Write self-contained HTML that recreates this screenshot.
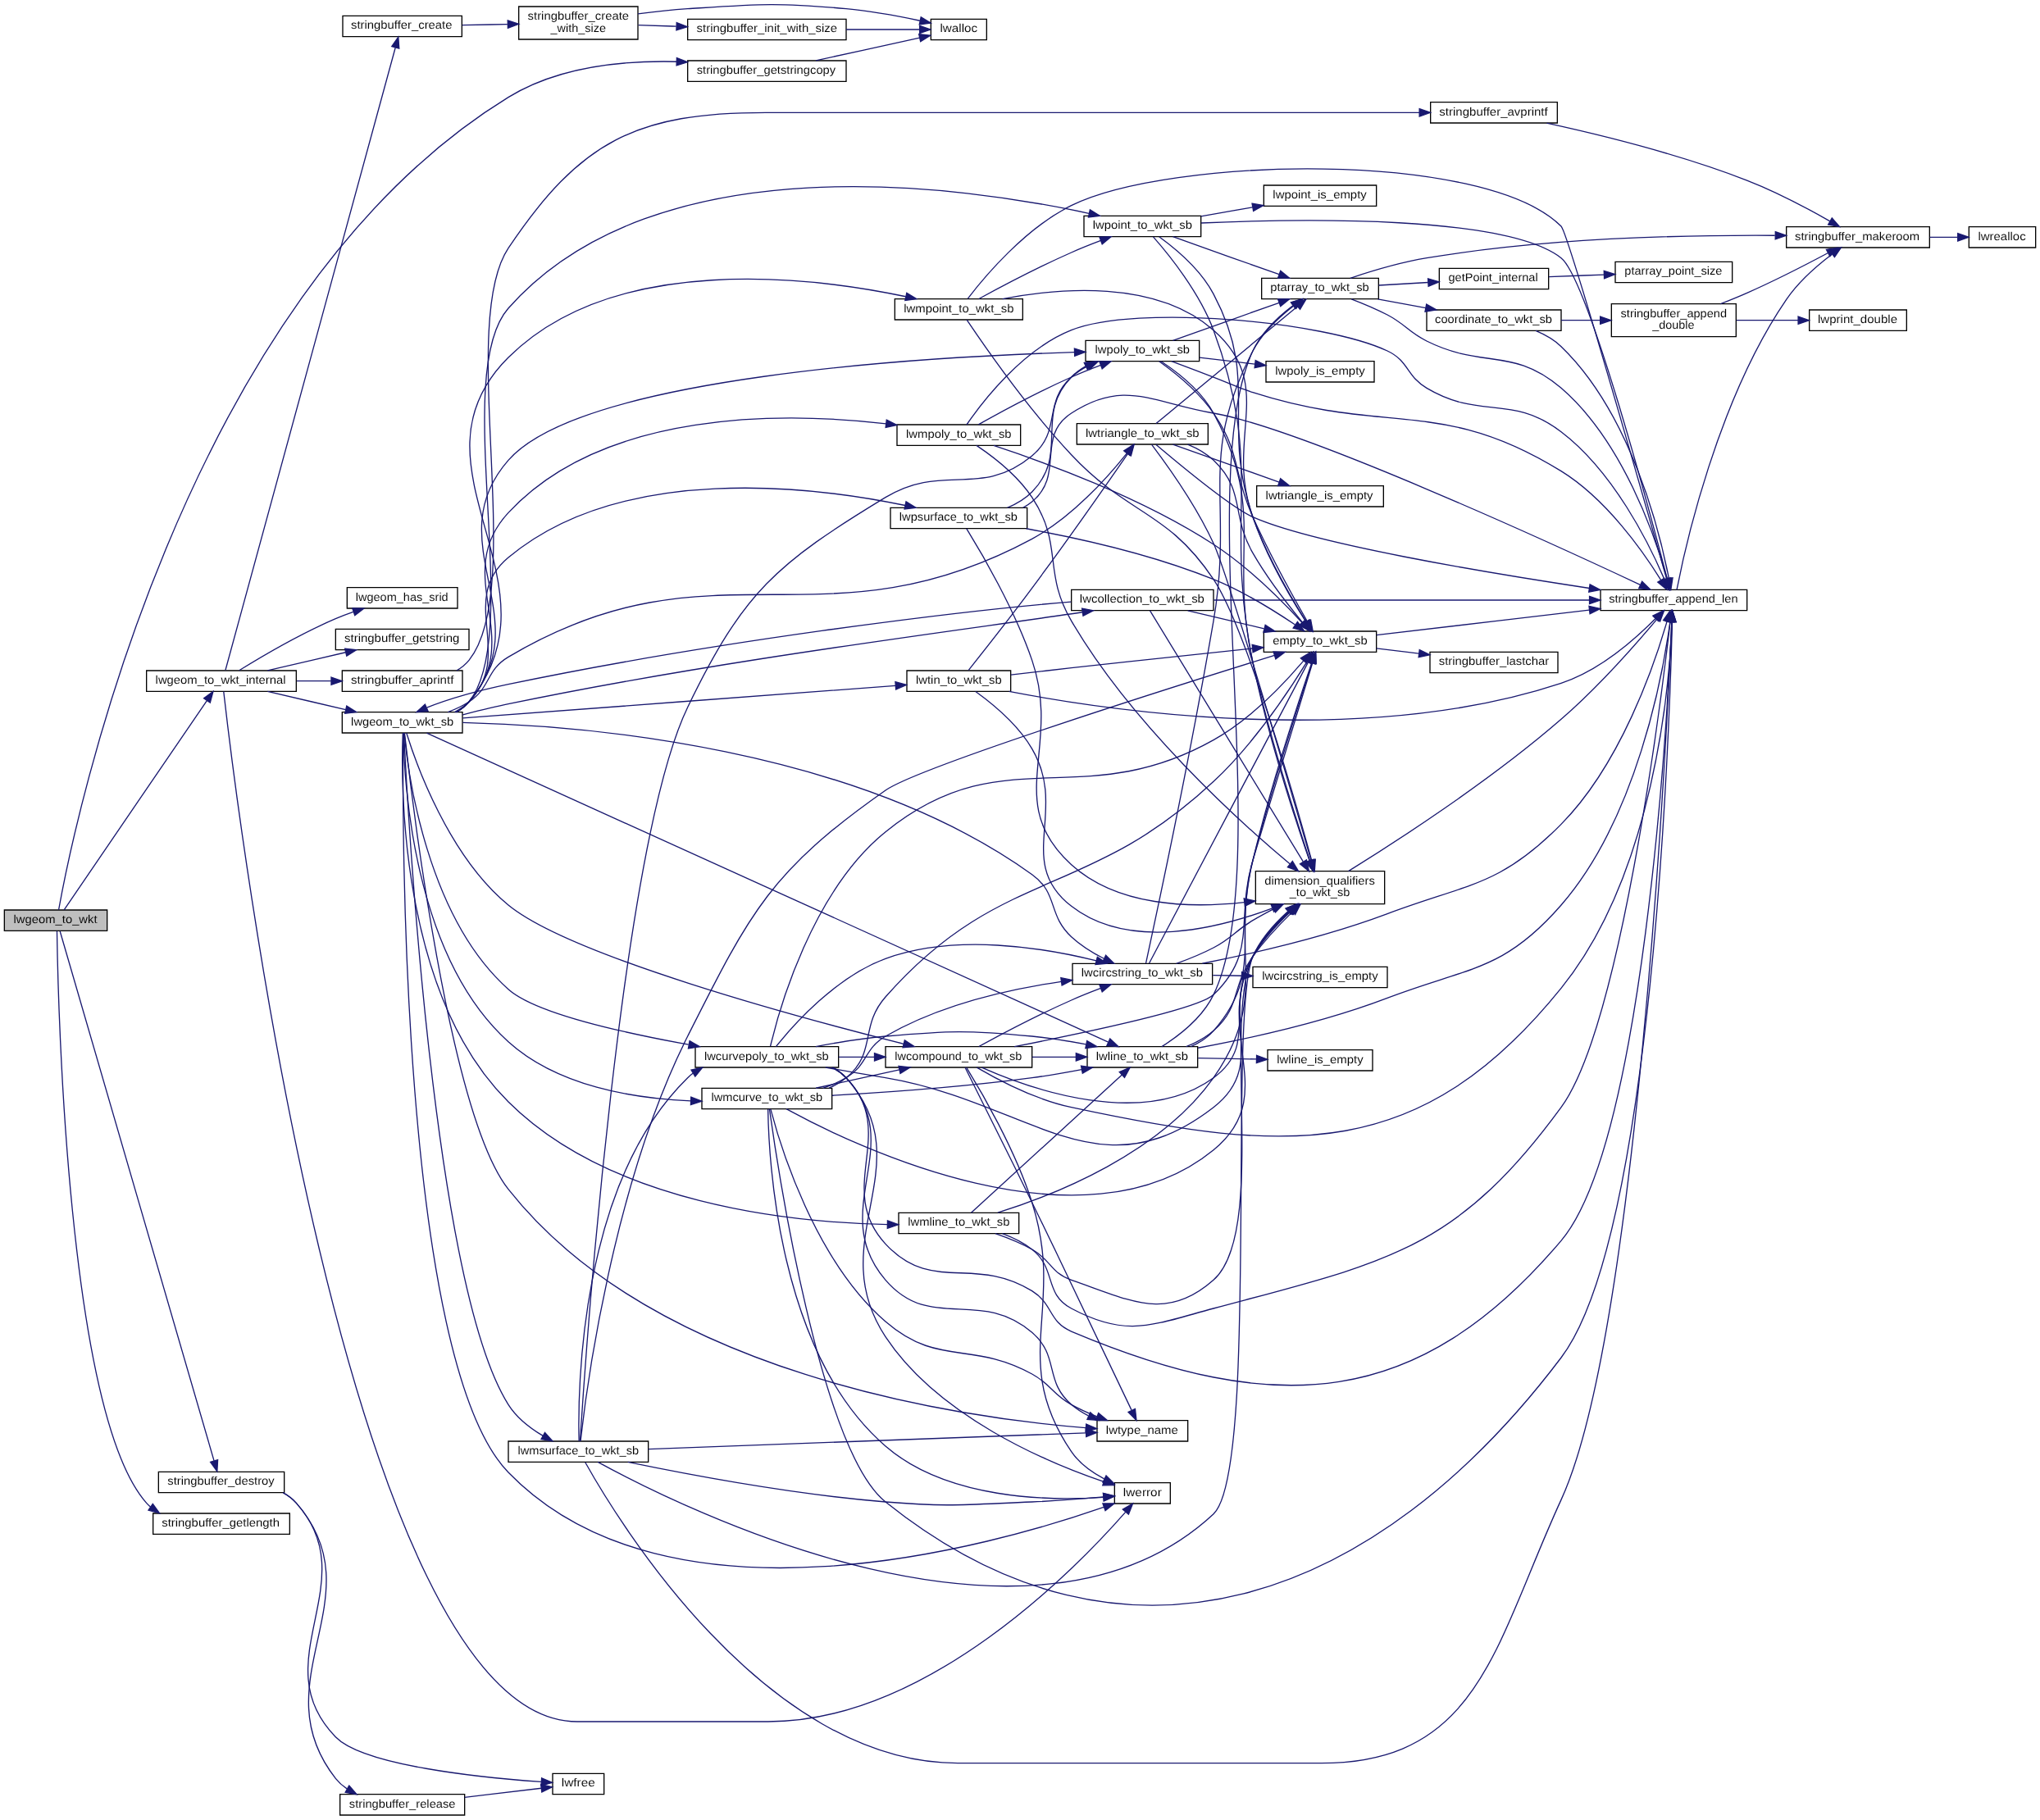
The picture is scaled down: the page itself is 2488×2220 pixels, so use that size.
<!DOCTYPE html>
<html><head><meta charset="utf-8"><title>lwgeom_to_wkt</title>
<style>
html,body{margin:0;padding:0;background:#fff}
svg{display:block}
text{font-family:"Liberation Sans",sans-serif;font-size:10.5px;text-anchor:middle;fill:#000}
svg{will-change:transform}
text{text-rendering:geometricPrecision;stroke:#fff;stroke-width:0.045px;paint-order:fill stroke}
.r{stroke:#bfbfbf}
</style></head><body>
<svg width="2488" height="2220" viewBox="0 0 1866 1665">
<g id="graph0" class="graph" transform="scale(1 1) rotate(0) translate(4 1661.01)">
<polygon fill="white" stroke="none" points="-4,4 -4,-1661.01 1862,-1661.01 1862,4 -4,4"/>
<g>
<polygon fill="#bfbfbf" stroke="black" points="0,-809.5 0,-828.5 94,-828.5 94,-809.5 0,-809.5"/>
<text class="r" x="46.66" y="-816.50" textLength="76.57" lengthAdjust="spacingAndGlyphs">lwgeom_to_wkt</text>
</g>
<g>
<polygon fill="white" stroke="black" points="130,-1028.5 130,-1047.5 267,-1047.5 267,-1028.5 130,-1028.5"/>
<text x="197.82" y="-1035.50" textLength="119.26" lengthAdjust="spacingAndGlyphs">lwgeom_to_wkt_internal</text>
</g>
<g>
<path fill="none" stroke="midnightblue" d="M54.62,-828.69C77.72,-862.54 155.06,-975.83 185.27,-1020.08"/>
<polygon fill="midnightblue" stroke="midnightblue" points="182.43,-1022.13 190.96,-1028.42 188.21,-1018.19 182.43,-1022.13"/>
</g>
<g>
<polygon fill="white" stroke="black" points="141,-295.5 141,-314.5 256,-314.5 256,-295.5 141,-295.5"/>
<text x="198.16" y="-302.50" textLength="97.73" lengthAdjust="spacingAndGlyphs">stringbuffer_destroy</text>
</g>
<g>
<path fill="none" stroke="midnightblue" d="M50.85,-809.19C68.87,-747.23 166.96,-410 191.79,-324.64"/>
<polygon fill="midnightblue" stroke="midnightblue" points="195.18,-325.49 194.62,-314.91 188.46,-323.54 195.18,-325.49"/>
</g>
<g>
<polygon fill="white" stroke="black" points="136,-257.5 136,-276.5 261,-276.5 261,-257.5 136,-257.5"/>
<text x="197.82" y="-264.50" textLength="107.79" lengthAdjust="spacingAndGlyphs">stringbuffer_getlength</text>
</g>
<g>
<path fill="none" stroke="midnightblue" d="M48.11,-809.27C49.05,-743.81 57.55,-367.85 130,-286 131.16,-284.68 132.41,-283.46 133.73,-282.31"/>
<polygon fill="midnightblue" stroke="midnightblue" points="135.73,-285.18 141.96,-276.61 131.75,-279.43 135.73,-285.18"/>
</g>
<g>
<polygon fill="white" stroke="black" points="625,-1586.5 625,-1605.5 770,-1605.5 770,-1586.5 625,-1586.5"/>
<text x="696.83" y="-1593.50" textLength="127.15" lengthAdjust="spacingAndGlyphs">stringbuffer_getstringcopy</text>
</g>
<g>
<path fill="none" stroke="midnightblue" d="M49.68,-828.7C63.15,-903.3 161.12,-1387.91 461,-1572 506.61,-1600 566.77,-1605.72 614.86,-1604.59"/>
<polygon fill="midnightblue" stroke="midnightblue" points="615.06,-1608.08 624.93,-1604.25 614.82,-1601.09 615.06,-1608.08"/>
</g>
<g>
<polygon fill="white" stroke="black" points="1015.5,-285.5 1015.5,-304.5 1066.5,-304.5 1066.5,-285.5 1015.5,-285.5"/>
<text x="1041.00" y="-292.50" textLength="35.17" lengthAdjust="spacingAndGlyphs">lwerror</text>
</g>
<g>
<path fill="none" stroke="midnightblue" d="M200.58,-1028.27C211.97,-927.96 313.81,-86 524,-86 524,-86 524,-86 698.5,-86 845.03,-86 981.8,-227.72 1025.53,-277.76"/>
<polygon fill="midnightblue" stroke="midnightblue" points="1022.99,-280.18 1032.17,-285.48 1028.3,-275.61 1022.99,-280.18"/>
</g>
<g>
<polygon fill="white" stroke="black" points="313.5,-1104.5 313.5,-1123.5 414.5,-1123.5 414.5,-1104.5 313.5,-1104.5"/>
<text x="363.66" y="-1111.50" textLength="84.76" lengthAdjust="spacingAndGlyphs">lwgeom_has_srid</text>
</g>
<g>
<path fill="none" stroke="midnightblue" d="M214.8,-1047.68C234.58,-1059.9 270.38,-1081.02 303,-1095 308.15,-1097.21 313.64,-1099.29 319.13,-1101.21"/>
<polygon fill="midnightblue" stroke="midnightblue" points="318.34,-1104.64 328.94,-1104.49 320.56,-1098 318.34,-1104.64"/>
</g>
<g>
<polygon fill="white" stroke="black" points="309,-990.5 309,-1009.5 419,-1009.5 419,-990.5 309,-990.5"/>
<text x="364.00" y="-997.50" textLength="93.80" lengthAdjust="spacingAndGlyphs">lwgeom_to_wkt_sb</text>
</g>
<g>
<path fill="none" stroke="midnightblue" d="M240.76,-1028.41C262.43,-1023.37 289.18,-1017.16 312.13,-1011.82"/>
<polygon fill="midnightblue" stroke="midnightblue" points="313.09,-1015.19 322.04,-1009.52 311.51,-1008.37 313.09,-1015.19"/>
</g>
<g>
<polygon fill="white" stroke="black" points="309,-1028.5 309,-1047.5 419,-1047.5 419,-1028.5 309,-1028.5"/>
<text x="364.00" y="-1035.50" textLength="93.99" lengthAdjust="spacingAndGlyphs">stringbuffer_aprintf</text>
</g>
<g>
<path fill="none" stroke="midnightblue" d="M267.42,-1038C277.82,-1038 288.52,-1038 298.83,-1038"/>
<polygon fill="midnightblue" stroke="midnightblue" points="298.99,-1041.5 308.99,-1038 298.99,-1034.5 298.99,-1041.5"/>
</g>
<g>
<polygon fill="white" stroke="black" points="309.5,-1627.5 309.5,-1646.5 418.5,-1646.5 418.5,-1627.5 309.5,-1627.5"/>
<text x="363.32" y="-1634.50" textLength="92.59" lengthAdjust="spacingAndGlyphs">stringbuffer_create</text>
</g>
<g>
<path fill="none" stroke="midnightblue" d="M202.2,-1047.9C220.97,-1116.67 331.97,-1523.31 357.68,-1617.52"/>
<polygon fill="midnightblue" stroke="midnightblue" points="354.32,-1618.48 360.33,-1627.2 361.07,-1616.63 354.32,-1618.48"/>
</g>
<g>
<polygon fill="white" stroke="black" points="303,-1066.5 303,-1085.5 425,-1085.5 425,-1066.5 303,-1066.5"/>
<text x="363.66" y="-1073.50" textLength="105.30" lengthAdjust="spacingAndGlyphs">stringbuffer_getstring</text>
</g>
<g>
<path fill="none" stroke="midnightblue" d="M240.76,-1047.59C262.43,-1052.63 289.18,-1058.84 312.13,-1064.18"/>
<polygon fill="midnightblue" stroke="midnightblue" points="311.51,-1067.63 322.04,-1066.48 313.09,-1060.81 311.51,-1067.63"/>
</g>
<g>
<path fill="none" stroke="midnightblue" d="M364.86,-990.44C363.98,-915.02 361.97,-416.05 461,-314 608.45,-162.05 904.94,-247.16 1005.63,-282.2"/>
<polygon fill="midnightblue" stroke="midnightblue" points="1004.7,-285.58 1015.3,-285.62 1007.04,-278.98 1004.7,-285.58"/>
</g>
<g>
<polygon fill="white" stroke="black" points="977,-760.5 977,-779.5 1105,-779.5 1105,-760.5 977,-760.5"/>
<text x="1040.66" y="-767.50" textLength="111.14" lengthAdjust="spacingAndGlyphs">lwcircstring_to_wkt_sb</text>
</g>
<g>
<path fill="none" stroke="midnightblue" d="M419.25,-999.98C528.19,-997.34 777.07,-977.89 940,-861 964.35,-843.53 954.03,-824.38 976,-804 984.62,-796.01 995.46,-789.32 1005.77,-784.05"/>
<polygon fill="midnightblue" stroke="midnightblue" points="1007.5,-787.1 1015,-779.61 1004.47,-780.79 1007.5,-787.1"/>
</g>
<g>
<polygon fill="white" stroke="black" points="976,-1102.5 976,-1121.5 1106,-1121.5 1106,-1102.5 976,-1102.5"/>
<text x="1040.66" y="-1109.50" textLength="114.10" lengthAdjust="spacingAndGlyphs">lwcollection_to_wkt_sb</text>
</g>
<g>
<path fill="none" stroke="midnightblue" d="M419.06,-1007.11C432.67,-1010.49 447.31,-1014.14 461,-1017 652.38,-1056.99 883.13,-1085.44 985.97,-1100.94"/>
<polygon fill="midnightblue" stroke="midnightblue" points="985.7,-1104.43 996.11,-1102.49 986.75,-1097.52 985.7,-1104.43"/>
</g>
<g>
<polygon fill="white" stroke="black" points="806,-684.5 806,-703.5 940,-703.5 940,-684.5 806,-684.5"/>
<text x="872.66" y="-691.50" textLength="116.27" lengthAdjust="spacingAndGlyphs">lwcompound_to_wkt_sb</text>
</g>
<g>
<path fill="none" stroke="midnightblue" d="M367.8,-990.49C376.61,-962.19 406.47,-877.79 461,-833 517.71,-786.42 726.2,-730.22 822.56,-706.03"/>
<polygon fill="midnightblue" stroke="midnightblue" points="823.51,-709.4 832.36,-703.58 821.81,-702.61 823.51,-709.4"/>
</g>
<g>
<polygon fill="white" stroke="black" points="990.5,-684.5 990.5,-703.5 1091.5,-703.5 1091.5,-684.5 990.5,-684.5"/>
<text x="1040.66" y="-691.50" textLength="84.16" lengthAdjust="spacingAndGlyphs">lwline_to_wkt_sb</text>
</g>
<g>
<path fill="none" stroke="midnightblue" d="M386.32,-990.34C484.63,-945.77 894.4,-760 1009.7,-707.74"/>
<polygon fill="midnightblue" stroke="midnightblue" points="1011.35,-710.83 1019.01,-703.51 1008.46,-704.46 1011.35,-710.83"/>
</g>
<g>
<polygon fill="white" stroke="black" points="999.5,-342.5 999.5,-361.5 1082.5,-361.5 1082.5,-342.5 999.5,-342.5"/>
<text x="1040.66" y="-349.50" textLength="65.98" lengthAdjust="spacingAndGlyphs">lwtype_name</text>
</g>
<g>
<path fill="none" stroke="midnightblue" d="M366.05,-990.18C372.36,-932.86 406.74,-641.74 461,-573 594.66,-403.68 874.09,-364.02 988.99,-354.78"/>
<polygon fill="midnightblue" stroke="midnightblue" points="989.55,-358.25 999.26,-354 989.02,-351.27 989.55,-358.25"/>
</g>
<g>
<polygon fill="white" stroke="black" points="632,-684.5 632,-703.5 763,-703.5 763,-684.5 632,-684.5"/>
<text x="697.16" y="-691.50" textLength="113.95" lengthAdjust="spacingAndGlyphs">lwcurvepoly_to_wkt_sb</text>
</g>
<g>
<path fill="none" stroke="midnightblue" d="M365.77,-990.33C369.21,-953.71 386.49,-822.24 461,-756 485.34,-734.36 565.7,-716.31 625.82,-705.37"/>
<polygon fill="midnightblue" stroke="midnightblue" points="626.81,-708.74 636.04,-703.54 625.58,-701.85 626.81,-708.74"/>
</g>
<g>
<polygon fill="white" stroke="black" points="638,-646.5 638,-665.5 757,-665.5 757,-646.5 638,-646.5"/>
<text x="697.50" y="-653.50" textLength="101.85" lengthAdjust="spacingAndGlyphs">lwmcurve_to_wkt_sb</text>
</g>
<g>
<path fill="none" stroke="midnightblue" d="M364.98,-990.4C365.43,-949.42 372.94,-787.64 461,-708 506.13,-667.19 575.9,-655.95 627.8,-653.87"/>
<polygon fill="midnightblue" stroke="midnightblue" points="628.04,-657.36 637.93,-653.57 627.83,-650.37 628.04,-657.36"/>
</g>
<g>
<polygon fill="white" stroke="black" points="818,-532.5 818,-551.5 928,-551.5 928,-532.5 818,-532.5"/>
<text x="873.00" y="-539.50" textLength="93.23" lengthAdjust="spacingAndGlyphs">lwmline_to_wkt_sb</text>
</g>
<g>
<path fill="none" stroke="midnightblue" d="M364.49,-990.33C362.68,-945.06 361.25,-752.14 461,-653 554.64,-559.94 717.69,-542.7 807.71,-540.79"/>
<polygon fill="midnightblue" stroke="midnightblue" points="807.84,-544.28 817.78,-540.63 807.73,-537.28 807.84,-544.28"/>
</g>
<g>
<polygon fill="white" stroke="black" points="814.5,-1368.5 814.5,-1387.5 931.5,-1387.5 931.5,-1368.5 814.5,-1368.5"/>
<text x="873.00" y="-1375.50" textLength="100.69" lengthAdjust="spacingAndGlyphs">lwmpoint_to_wkt_sb</text>
</g>
<g>
<path fill="none" stroke="midnightblue" d="M413.43,-1009.55C417.82,-1012.02 421.8,-1015.12 425,-1019 514.58,-1127.77 361.01,-1234.72 461,-1334 558.14,-1430.44 738.7,-1407.59 824.44,-1389.68"/>
<polygon fill="midnightblue" stroke="midnightblue" points="825.37,-1393.06 834.41,-1387.53 823.9,-1386.22 825.37,-1393.06"/>
</g>
<g>
<polygon fill="white" stroke="black" points="987.5,-1444.5 987.5,-1463.5 1094.5,-1463.5 1094.5,-1444.5 987.5,-1444.5"/>
<text x="1041.00" y="-1451.50" textLength="90.95" lengthAdjust="spacingAndGlyphs">lwpoint_to_wkt_sb</text>
</g>
<g>
<path fill="none" stroke="midnightblue" d="M413.49,-1009.5C417.87,-1011.98 421.83,-1015.1 425,-1019 475.67,-1081.42 407.73,-1318.78 461,-1379 596.79,-1532.49 879.26,-1490.31 992.01,-1465.8"/>
<polygon fill="midnightblue" stroke="midnightblue" points="993.06,-1469.15 1002.06,-1463.56 991.54,-1462.32 993.06,-1469.15"/>
</g>
<g>
<polygon fill="white" stroke="black" points="816.5,-1253.5 816.5,-1272.5 929.5,-1272.5 929.5,-1253.5 816.5,-1253.5"/>
<text x="873.00" y="-1260.50" textLength="96.35" lengthAdjust="spacingAndGlyphs">lwmpoly_to_wkt_sb</text>
</g>
<g>
<path fill="none" stroke="midnightblue" d="M412.5,-1009.54C417.18,-1012.01 421.48,-1015.11 425,-1019 477.64,-1077.28 407.56,-1134.45 461,-1192 549.1,-1286.87 714.62,-1283.85 806.45,-1273.41"/>
<polygon fill="midnightblue" stroke="midnightblue" points="806.94,-1276.87 816.45,-1272.21 806.11,-1269.92 806.94,-1276.87"/>
</g>
<g>
<polygon fill="white" stroke="black" points="989,-1330.5 989,-1349.5 1093,-1349.5 1093,-1330.5 989,-1330.5"/>
<text x="1041.00" y="-1337.50" textLength="86.61" lengthAdjust="spacingAndGlyphs">lwpoly_to_wkt_sb</text>
</g>
<g>
<path fill="none" stroke="midnightblue" d="M412.96,-1009.55C417.49,-1012.02 421.64,-1015.11 425,-1019 490.08,-1094.29 395.31,-1165.25 461,-1240 528.35,-1316.64 843.98,-1334.57 978.75,-1338.74"/>
<polygon fill="midnightblue" stroke="midnightblue" points="978.81,-1342.24 988.91,-1339.04 979.01,-1335.25 978.81,-1342.24"/>
</g>
<g>
<polygon fill="white" stroke="black" points="461,-323.5 461,-342.5 589,-342.5 589,-323.5 461,-323.5"/>
<text x="525.00" y="-330.50" textLength="110.79" lengthAdjust="spacingAndGlyphs">lwmsurface_to_wkt_sb</text>
</g>
<g>
<path fill="none" stroke="midnightblue" d="M365.45,-990.29C368.84,-919.7 392.34,-484.96 461,-376 468.59,-363.95 480.93,-354.43 492.68,-347.45"/>
<polygon fill="midnightblue" stroke="midnightblue" points="494.4,-350.5 501.47,-342.6 491.02,-344.37 494.4,-350.5"/>
</g>
<g>
<polygon fill="white" stroke="black" points="810.5,-1177.5 810.5,-1196.5 935.5,-1196.5 935.5,-1177.5 810.5,-1177.5"/>
<text x="872.66" y="-1184.50" textLength="108.07" lengthAdjust="spacingAndGlyphs">lwpsurface_to_wkt_sb</text>
</g>
<g>
<path fill="none" stroke="midnightblue" d="M411.97,-1009.6C416.8,-1012.06 421.29,-1015.14 425,-1019 467.12,-1062.86 414.33,-1112.01 461,-1151 565.06,-1237.93 739.96,-1215.98 824.04,-1198.64"/>
<polygon fill="midnightblue" stroke="midnightblue" points="824.77,-1202.07 833.83,-1196.56 823.32,-1195.22 824.77,-1202.07"/>
</g>
<g>
<polygon fill="white" stroke="black" points="825.5,-1028.5 825.5,-1047.5 920.5,-1047.5 920.5,-1028.5 825.5,-1028.5"/>
<text x="873.00" y="-1035.50" textLength="78.48" lengthAdjust="spacingAndGlyphs">lwtin_to_wkt_sb</text>
</g>
<g>
<path fill="none" stroke="midnightblue" d="M419.26,-1004.07C515.85,-1011.31 716.7,-1026.36 815.13,-1033.74"/>
<polygon fill="midnightblue" stroke="midnightblue" points="814.96,-1037.23 825.19,-1034.49 815.48,-1030.25 814.96,-1037.23"/>
</g>
<g>
<polygon fill="white" stroke="black" points="981,-1254.5 981,-1273.5 1101,-1273.5 1101,-1254.5 981,-1254.5"/>
<text x="1041.00" y="-1261.50" textLength="104.00" lengthAdjust="spacingAndGlyphs">lwtriangle_to_wkt_sb</text>
</g>
<g>
<path fill="none" stroke="midnightblue" d="M405.74,-1009.58C412.47,-1012.08 419.14,-1015.18 425,-1019 445.3,-1032.26 440.15,-1047.62 461,-1060 648.63,-1171.45 747.79,-1064.64 940,-1168 976.51,-1187.63 1009.17,-1224.31 1026.62,-1246.21"/>
<polygon fill="midnightblue" stroke="midnightblue" points="1024.04,-1248.59 1032.94,-1254.33 1029.56,-1244.29 1024.04,-1248.59"/>
</g>
<g>
<polygon fill="white" stroke="black" points="1144.5,-834 1144.5,-864 1262.5,-864 1262.5,-834 1144.5,-834"/>
<text x="1203.16" y="-852.00" textLength="100.92" lengthAdjust="spacingAndGlyphs">dimension_qualifiers</text>
<text x="1203.16" y="-841.00" textLength="55.16" lengthAdjust="spacingAndGlyphs">_to_wkt_sb</text>
</g>
<g>
<path fill="none" stroke="midnightblue" d="M1071.98,-779.5C1082.94,-783.43 1095.28,-788.38 1106,-794 1123.25,-803.05 1125.23,-809.09 1142,-819 1147.97,-822.53 1154.41,-826.02 1160.78,-829.32"/>
<polygon fill="midnightblue" stroke="midnightblue" points="1159.5,-832.59 1170.01,-833.98 1162.66,-826.35 1159.5,-832.59"/>
</g>
<g>
<polygon fill="white" stroke="black" points="1460,-1102.5 1460,-1121.5 1594,-1121.5 1594,-1102.5 1460,-1102.5"/>
<text x="1526.66" y="-1109.50" textLength="118.10" lengthAdjust="spacingAndGlyphs">stringbuffer_append_len</text>
</g>
<g>
<path fill="none" stroke="midnightblue" d="M1095.78,-779.58C1141.62,-788.61 1208.81,-803.92 1265,-825 1339.44,-852.93 1368.19,-850.37 1424,-907 1478.59,-962.38 1509.31,-1052.82 1520.76,-1092.4"/>
<polygon fill="midnightblue" stroke="midnightblue" points="1517.42,-1093.46 1523.49,-1102.15 1524.17,-1091.58 1517.42,-1093.46"/>
</g>
<g>
<polygon fill="white" stroke="black" points="1152,-1064.5 1152,-1083.5 1255,-1083.5 1255,-1064.5 1152,-1064.5"/>
<text x="1203.50" y="-1071.50" textLength="86.57" lengthAdjust="spacingAndGlyphs">empty_to_wkt_sb</text>
</g>
<g>
<path fill="none" stroke="midnightblue" d="M1047.16,-779.77C1069.99,-823.01 1162.14,-997.56 1192.64,-1055.33"/>
<polygon fill="midnightblue" stroke="midnightblue" points="1189.68,-1057.21 1197.44,-1064.42 1195.87,-1053.94 1189.68,-1057.21"/>
</g>
<g>
<polygon fill="white" stroke="black" points="1142,-757.5 1142,-776.5 1265,-776.5 1265,-757.5 1142,-757.5"/>
<text x="1203.50" y="-764.50" textLength="106.05" lengthAdjust="spacingAndGlyphs">lwcircstring_is_empty</text>
</g>
<g>
<path fill="none" stroke="midnightblue" d="M1105.43,-768.81C1114.06,-768.65 1122.96,-768.49 1131.71,-768.32"/>
<polygon fill="midnightblue" stroke="midnightblue" points="1131.95,-771.82 1141.88,-768.13 1131.82,-764.82 1131.95,-771.82"/>
</g>
<g>
<polygon fill="white" stroke="black" points="1150,-1387.5 1150,-1406.5 1257,-1406.5 1257,-1387.5 1150,-1387.5"/>
<text x="1203.16" y="-1394.50" textLength="90.30" lengthAdjust="spacingAndGlyphs">ptarray_to_wkt_sb</text>
</g>
<g>
<path fill="none" stroke="midnightblue" d="M1044.12,-779.74C1052.6,-818.92 1084.65,-968.77 1106,-1093 1124.79,-1202.34 1090.78,-1241.6 1142,-1340 1150.69,-1356.7 1166.23,-1371.17 1179.38,-1381.36"/>
<polygon fill="midnightblue" stroke="midnightblue" points="1177.46,-1384.29 1187.59,-1387.42 1181.62,-1378.66 1177.46,-1384.29"/>
</g>
<g>
<path fill="none" stroke="midnightblue" d="M1229.42,-864.09C1271.45,-890.06 1358.28,-945.92 1424,-1003 1458.01,-1032.54 1492.85,-1072.21 1511.72,-1094.64"/>
<polygon fill="midnightblue" stroke="midnightblue" points="1509.05,-1096.89 1518.14,-1102.33 1514.42,-1092.41 1509.05,-1096.89"/>
</g>
<g>
<polygon fill="white" stroke="black" points="1630,-1434.5 1630,-1453.5 1761,-1453.5 1761,-1434.5 1630,-1434.5"/>
<text x="1694.83" y="-1441.50" textLength="114.17" lengthAdjust="spacingAndGlyphs">stringbuffer_makeroom</text>
</g>
<g>
<path fill="none" stroke="midnightblue" d="M1529.77,-1121.56C1536.99,-1158.54 1566.79,-1294.82 1630,-1387 1641.16,-1403.28 1657.97,-1417.93 1671.64,-1428.3"/>
<polygon fill="midnightblue" stroke="midnightblue" points="1669.93,-1431.39 1680.07,-1434.47 1674.07,-1425.74 1669.93,-1431.39"/>
</g>
<g>
<polygon fill="white" stroke="black" points="1797,-1434.5 1797,-1453.5 1858,-1453.5 1858,-1434.5 1797,-1434.5"/>
<text x="1827.16" y="-1441.50" textLength="43.63" lengthAdjust="spacingAndGlyphs">lwrealloc</text>
</g>
<g>
<path fill="none" stroke="midnightblue" d="M1761.12,-1444C1769.8,-1444 1778.5,-1444 1786.58,-1444"/>
<polygon fill="midnightblue" stroke="midnightblue" points="1786.8,-1447.5 1796.8,-1444 1786.8,-1440.5 1786.8,-1447.5"/>
</g>
<g>
<path fill="none" stroke="midnightblue" d="M1255.09,-1079.98C1307.33,-1086.15 1389.47,-1095.86 1449.62,-1102.97"/>
<polygon fill="midnightblue" stroke="midnightblue" points="1449.49,-1106.48 1459.83,-1104.18 1450.31,-1099.53 1449.49,-1106.48"/>
</g>
<g>
<polygon fill="white" stroke="black" points="1304,-1045.5 1304,-1064.5 1421,-1064.5 1421,-1045.5 1304,-1045.5"/>
<text x="1362.50" y="-1052.50" textLength="100.95" lengthAdjust="spacingAndGlyphs">stringbuffer_lastchar</text>
</g>
<g>
<path fill="none" stroke="midnightblue" d="M1255.04,-1067.88C1267.35,-1066.39 1280.71,-1064.78 1293.68,-1063.21"/>
<polygon fill="midnightblue" stroke="midnightblue" points="1294.45,-1066.64 1303.96,-1061.96 1293.61,-1059.69 1294.45,-1066.64"/>
</g>
<g>
<path fill="none" stroke="midnightblue" d="M1232.15,-1387.44C1242.66,-1383.44 1254.59,-1378.46 1265,-1373 1282.03,-1364.07 1283.79,-1357.57 1301,-1349 1352.84,-1323.18 1380.14,-1343.82 1424,-1306 1480.13,-1257.6 1509.89,-1170.55 1520.92,-1131.68"/>
<polygon fill="midnightblue" stroke="midnightblue" points="1524.4,-1132.23 1523.64,-1121.66 1517.64,-1130.39 1524.4,-1132.23"/>
</g>
<g>
<path fill="none" stroke="midnightblue" d="M1231.15,-1406.56C1250.31,-1412.98 1276.91,-1420.98 1301,-1425 1410.76,-1443.31 1539.94,-1446.02 1619.53,-1445.57"/>
<polygon fill="midnightblue" stroke="midnightblue" points="1619.97,-1449.06 1629.94,-1445.49 1619.91,-1442.06 1619.97,-1449.06"/>
</g>
<g>
<polygon fill="white" stroke="black" points="1301,-1358.5 1301,-1377.5 1424,-1377.5 1424,-1358.5 1301,-1358.5"/>
<text x="1362.16" y="-1365.50" textLength="107.15" lengthAdjust="spacingAndGlyphs">coordinate_to_wkt_sb</text>
</g>
<g>
<path fill="none" stroke="midnightblue" d="M1256.34,-1387.42C1270.35,-1384.84 1285.64,-1382.01 1300.11,-1379.34"/>
<polygon fill="midnightblue" stroke="midnightblue" points="1300.78,-1382.77 1309.98,-1377.52 1299.51,-1375.89 1300.78,-1382.77"/>
</g>
<g>
<polygon fill="white" stroke="black" points="1312.5,-1396.5 1312.5,-1415.5 1412.5,-1415.5 1412.5,-1396.5 1312.5,-1396.5"/>
<text x="1361.83" y="-1403.50" textLength="81.92" lengthAdjust="spacingAndGlyphs">getPoint_internal</text>
</g>
<g>
<path fill="none" stroke="midnightblue" d="M1257.22,-1400.02C1271.69,-1400.85 1287.48,-1401.76 1302.3,-1402.61"/>
<polygon fill="midnightblue" stroke="midnightblue" points="1302.19,-1406.11 1312.37,-1403.18 1302.59,-1399.12 1302.19,-1406.11"/>
</g>
<g>
<path fill="none" stroke="midnightblue" d="M1400.74,-1358.46C1409.14,-1354.97 1417.49,-1350.27 1424,-1344 1487.23,-1283.04 1513.87,-1176.08 1522.54,-1131.93"/>
<polygon fill="midnightblue" stroke="midnightblue" points="1526.02,-1132.37 1524.41,-1121.9 1519.13,-1131.09 1526.02,-1132.37"/>
</g>
<g>
<polygon fill="white" stroke="black" points="1470,-1353 1470,-1383 1584,-1383 1584,-1353 1470,-1353"/>
<text x="1527.00" y="-1371.00" textLength="97.16" lengthAdjust="spacingAndGlyphs">stringbuffer_append</text>
<text x="1526.66" y="-1360.00" textLength="38.41" lengthAdjust="spacingAndGlyphs">_double</text>
</g>
<g>
<path fill="none" stroke="midnightblue" d="M1424.01,-1368C1435.59,-1368 1447.78,-1368 1459.54,-1368"/>
<polygon fill="midnightblue" stroke="midnightblue" points="1459.74,-1371.5 1469.74,-1368 1459.74,-1364.5 1459.74,-1371.5"/>
</g>
<g>
<path fill="none" stroke="midnightblue" d="M1569.82,-1383.06C1577.91,-1386.19 1586.27,-1389.58 1594,-1393 1619.65,-1404.33 1648.07,-1418.95 1668.13,-1429.64"/>
<polygon fill="midnightblue" stroke="midnightblue" points="1666.52,-1432.74 1676.99,-1434.39 1669.83,-1426.58 1666.52,-1432.74"/>
</g>
<g>
<polygon fill="white" stroke="black" points="1651,-1358.5 1651,-1377.5 1740,-1377.5 1740,-1358.5 1651,-1358.5"/>
<text x="1695.16" y="-1365.50" textLength="72.86" lengthAdjust="spacingAndGlyphs">lwprint_double</text>
</g>
<g>
<path fill="none" stroke="midnightblue" d="M1584.37,-1368C1602.59,-1368 1622.74,-1368 1640.77,-1368"/>
<polygon fill="midnightblue" stroke="midnightblue" points="1640.82,-1371.5 1650.82,-1368 1640.82,-1364.5 1640.82,-1371.5"/>
</g>
<g>
<polygon fill="white" stroke="black" points="1473.5,-1402.5 1473.5,-1421.5 1580.5,-1421.5 1580.5,-1402.5 1473.5,-1402.5"/>
<text x="1526.66" y="-1409.50" textLength="89.36" lengthAdjust="spacingAndGlyphs">ptarray_point_size</text>
</g>
<g>
<path fill="none" stroke="midnightblue" d="M1412.7,-1407.82C1428.55,-1408.4 1446.35,-1409.06 1463.06,-1409.68"/>
<polygon fill="midnightblue" stroke="midnightblue" points="1463.18,-1413.18 1473.3,-1410.05 1463.43,-1406.19 1463.18,-1413.18"/>
</g>
<g>
<path fill="none" stroke="midnightblue" d="M975.74,-1110.48C868.43,-1101.61 646.27,-1073.71 461,-1035 435.07,-1029.58 405.74,-1021.32 386.4,-1013.63"/>
<polygon fill="midnightblue" stroke="midnightblue" points="387.58,-1010.33 377.01,-1009.56 384.79,-1016.75 387.58,-1010.33"/>
</g>
<g>
<path fill="none" stroke="midnightblue" d="M1047.9,-1102.33C1070.78,-1064.83 1154.04,-928.41 1187.97,-872.82"/>
<polygon fill="midnightblue" stroke="midnightblue" points="1191.11,-874.38 1193.34,-864.02 1185.14,-870.73 1191.11,-874.38"/>
</g>
<g>
<path fill="none" stroke="midnightblue" d="M1106.27,-1112C1195.09,-1112 1355.1,-1112 1449.82,-1112"/>
<polygon fill="midnightblue" stroke="midnightblue" points="1449.91,-1115.5 1459.91,-1112 1449.91,-1108.5 1449.91,-1115.5"/>
</g>
<g>
<path fill="none" stroke="midnightblue" d="M1082.5,-1102.41C1103.68,-1097.4 1129.8,-1091.21 1152.26,-1085.89"/>
<polygon fill="midnightblue" stroke="midnightblue" points="1153.37,-1089.23 1162.29,-1083.52 1151.75,-1082.42 1153.37,-1089.23"/>
</g>
<g>
<path fill="none" stroke="midnightblue" d="M880.04,-684.42C893.18,-663.13 924.42,-609.87 940,-561 971.16,-463.26 918.43,-417.91 976,-333 983.31,-322.22 994.78,-314.04 1006.01,-308.08"/>
<polygon fill="midnightblue" stroke="midnightblue" points="1007.81,-311.1 1015.28,-303.59 1004.76,-304.8 1007.81,-311.1"/>
</g>
<g>
<path fill="none" stroke="midnightblue" d="M891.4,-703.63C911.47,-714.56 945.62,-732.61 976,-746 984.61,-749.8 994.03,-753.54 1002.93,-756.91"/>
<polygon fill="midnightblue" stroke="midnightblue" points="1001.73,-760.19 1012.32,-760.39 1004.16,-753.63 1001.73,-760.19"/>
</g>
<g>
<path fill="none" stroke="midnightblue" d="M894.03,-684.42C937.37,-665.23 1041.11,-627.83 1106,-675 1147.95,-705.5 1115.36,-741.5 1142,-786 1151.14,-801.26 1164.6,-815.77 1176.51,-827"/>
<polygon fill="midnightblue" stroke="midnightblue" points="1174.31,-829.73 1184.05,-833.89 1179.03,-824.56 1174.31,-829.73"/>
</g>
<g>
<path fill="none" stroke="midnightblue" d="M889.53,-684.46C908.92,-673.16 943.52,-654.98 976,-648 1176.34,-604.91 1295.18,-597.64 1424,-757 1508.85,-861.96 1523.12,-1034.29 1525.52,-1092.27"/>
<polygon fill="midnightblue" stroke="midnightblue" points="1522.02,-1092.41 1525.86,-1102.28 1529.02,-1092.17 1522.02,-1092.41"/>
</g>
<g>
<path fill="none" stroke="midnightblue" d="M923.96,-703.51C988.13,-716.14 1092.86,-738.34 1106,-751 1147.01,-790.53 1125.75,-819.41 1142,-874 1161.79,-940.49 1185.77,-1019.23 1196.64,-1054.83"/>
<polygon fill="midnightblue" stroke="midnightblue" points="1193.3,-1055.89 1199.57,-1064.43 1200,-1053.85 1193.3,-1055.89"/>
</g>
<g>
<path fill="none" stroke="midnightblue" d="M940.08,-694C953.28,-694 967.08,-694 980.05,-694"/>
<polygon fill="midnightblue" stroke="midnightblue" points="980.26,-697.5 990.26,-694 980.26,-690.5 980.26,-697.5"/>
</g>
<g>
<path fill="none" stroke="midnightblue" d="M878.85,-684.34C889.84,-662.45 917.42,-607.34 940,-561 974,-491.23 1013.56,-407.9 1030.98,-371.09"/>
<polygon fill="midnightblue" stroke="midnightblue" points="1034.35,-372.14 1035.46,-361.61 1028.02,-369.15 1034.35,-372.14"/>
</g>
<g>
<path fill="none" stroke="midnightblue" d="M1081.05,-703.54C1089.95,-707.04 1098.87,-711.73 1106,-718 1131.68,-740.58 1121.96,-758.29 1142,-786 1152.57,-800.62 1166.38,-815.25 1178.13,-826.73"/>
<polygon fill="midnightblue" stroke="midnightblue" points="1175.86,-829.4 1185.51,-833.79 1180.7,-824.35 1175.86,-829.4"/>
</g>
<g>
<path fill="none" stroke="midnightblue" d="M1091.8,-702.31C1137.73,-710.85 1207.31,-726 1265,-748 1339.87,-776.55 1371.45,-772.5 1424,-833 1493.18,-912.65 1516.93,-1043.16 1523.68,-1092.38"/>
<polygon fill="midnightblue" stroke="midnightblue" points="1520.21,-1092.87 1524.96,-1102.35 1527.16,-1091.98 1520.21,-1092.87"/>
</g>
<g>
<path fill="none" stroke="midnightblue" d="M1085.26,-703.56C1093.05,-706.99 1100.45,-711.66 1106,-718 1152.89,-771.52 1123.69,-805.24 1142,-874 1159.85,-941.03 1184.79,-1019.51 1196.27,-1054.94"/>
<polygon fill="midnightblue" stroke="midnightblue" points="1192.95,-1056.06 1199.37,-1064.49 1199.61,-1053.9 1192.95,-1056.06"/>
</g>
<g>
<path fill="none" stroke="midnightblue" d="M1058.73,-703.55C1074.04,-713.31 1095.79,-729.99 1106,-751 1163.29,-868.96 1086.37,-1221.25 1142,-1340 1149.93,-1356.94 1165.34,-1371.33 1178.62,-1381.42"/>
<polygon fill="midnightblue" stroke="midnightblue" points="1176.78,-1384.41 1186.94,-1387.41 1180.87,-1378.73 1176.78,-1384.41"/>
</g>
<g>
<polygon fill="white" stroke="black" points="1155.5,-681.5 1155.5,-700.5 1251.5,-700.5 1251.5,-681.5 1155.5,-681.5"/>
<text x="1203.50" y="-688.50" textLength="79.07" lengthAdjust="spacingAndGlyphs">lwline_is_empty</text>
</g>
<g>
<path fill="none" stroke="midnightblue" d="M1091.9,-693.07C1108.83,-692.75 1127.86,-692.4 1145.31,-692.07"/>
<polygon fill="midnightblue" stroke="midnightblue" points="1145.44,-695.57 1155.37,-691.88 1145.3,-688.57 1145.44,-695.57"/>
</g>
<g>
<path fill="none" stroke="midnightblue" d="M757.98,-684.42C762.47,-681.92 766.57,-678.83 770,-675 841.12,-595.67 747.25,-526.88 806,-438 854.1,-365.24 953.19,-323.39 1005.66,-305.47"/>
<polygon fill="midnightblue" stroke="midnightblue" points="1006.81,-308.77 1015.19,-302.3 1004.6,-302.13 1006.81,-308.77"/>
</g>
<g>
<path fill="none" stroke="midnightblue" d="M705.82,-703.53C721.57,-723.16 760.93,-767.62 806,-784 870.28,-807.36 951,-794.02 998.88,-782.09"/>
<polygon fill="midnightblue" stroke="midnightblue" points="999.77,-785.48 1008.58,-779.58 998.02,-778.7 999.77,-785.48"/>
</g>
<g>
<path fill="none" stroke="midnightblue" d="M751.23,-684.49C768.66,-681.4 788.15,-677.99 806,-675 938.03,-652.85 1000.06,-566.15 1106,-648 1156.16,-686.75 1111.05,-730.69 1142,-786 1150.63,-801.41 1163.93,-815.84 1175.86,-827"/>
<polygon fill="midnightblue" stroke="midnightblue" points="1173.68,-829.73 1183.45,-833.83 1178.36,-824.53 1173.68,-829.73"/>
</g>
<g>
<path fill="none" stroke="midnightblue" d="M756.97,-684.47C761.79,-681.97 766.24,-678.87 770,-675 818.42,-625.25 758.86,-573.97 806,-523 848.47,-477.08 886.84,-512.95 940,-480 959.5,-467.91 954.86,-451.93 976,-443 1162.55,-364.23 1293.2,-371.41 1424,-526 1499,-614.64 1520.94,-999.74 1525.17,-1092.06"/>
<polygon fill="midnightblue" stroke="midnightblue" points="1521.68,-1092.41 1525.62,-1102.25 1528.68,-1092.11 1521.68,-1092.41"/>
</g>
<g>
<path fill="none" stroke="midnightblue" d="M700.71,-703.96C708.6,-737.2 738.64,-845.37 806,-900 913.54,-987.22 985.28,-916.19 1106,-984 1139.73,-1002.95 1170.95,-1036.06 1188.3,-1056.41"/>
<polygon fill="midnightblue" stroke="midnightblue" points="1185.76,-1058.82 1194.85,-1064.27 1191.13,-1054.34 1185.76,-1058.82"/>
</g>
<g>
<path fill="none" stroke="midnightblue" d="M763.1,-694C773.69,-694 784.75,-694 795.59,-694"/>
<polygon fill="midnightblue" stroke="midnightblue" points="795.89,-697.5 805.89,-694 795.89,-690.5 795.89,-697.5"/>
</g>
<g>
<path fill="none" stroke="midnightblue" d="M742.2,-703.51C761.64,-707.28 784.85,-711.15 806,-713 865.33,-718.2 880.71,-718.58 940,-713 956.16,-711.48 973.61,-708.6 989.33,-705.54"/>
<polygon fill="midnightblue" stroke="midnightblue" points="990.27,-708.92 999.38,-703.51 988.88,-702.06 990.27,-708.92"/>
</g>
<g>
<path fill="none" stroke="midnightblue" d="M757.48,-684.45C762.13,-681.95 766.4,-678.85 770,-675 827.2,-613.8 751.43,-553.55 806,-490 847.21,-442 891.93,-483.13 940,-442 965.39,-420.28 950.77,-397.91 976,-376 980.59,-372.01 985.91,-368.66 991.48,-365.85"/>
<polygon fill="midnightblue" stroke="midnightblue" points="993.29,-368.87 1001.01,-361.61 990.45,-362.48 993.29,-368.87"/>
</g>
<g>
<path fill="none" stroke="midnightblue" d="M698.49,-646.34C699.02,-602.82 707.28,-423.41 806,-338 862.28,-289.3 955.26,-287.85 1005.39,-291.27"/>
<polygon fill="midnightblue" stroke="midnightblue" points="1005.17,-294.76 1015.41,-292.05 1005.72,-287.78 1005.17,-294.76"/>
</g>
<g>
<path fill="none" stroke="midnightblue" d="M748.78,-665.56C756.18,-668.03 763.49,-671.13 770,-675 790,-686.88 785.88,-701.33 806,-713 855.3,-741.6 918.44,-755.9 966.7,-763.03"/>
<polygon fill="midnightblue" stroke="midnightblue" points="966.38,-766.51 976.77,-764.44 967.35,-759.58 966.38,-766.51"/>
</g>
<g>
<path fill="none" stroke="midnightblue" d="M715.24,-646.48C775.77,-613.45 986.05,-510.99 1106,-609 1168.16,-659.79 1104.72,-714.9 1142,-786 1150.2,-801.64 1163.47,-816.09 1175.49,-827.2"/>
<polygon fill="midnightblue" stroke="midnightblue" points="1173.34,-829.97 1183.14,-833.99 1177.99,-824.74 1173.34,-829.97"/>
</g>
<g>
<path fill="none" stroke="midnightblue" d="M699.8,-646.5C707.24,-593.48 746.27,-334.9 806,-287 1025.1,-111.28 1254.66,-194.93 1424,-419 1507.31,-529.23 1523.09,-989.81 1525.58,-1091.9"/>
<polygon fill="midnightblue" stroke="midnightblue" points="1522.09,-1092.15 1525.81,-1102.07 1529.08,-1091.99 1522.09,-1092.15"/>
</g>
<g>
<path fill="none" stroke="midnightblue" d="M754.34,-665.64C759.98,-668.09 765.34,-671.16 770,-675 798.23,-698.25 781.85,-721.53 806,-749 911.33,-868.79 989.61,-836.93 1106,-946 1142.53,-980.24 1175.38,-1029.57 1191.67,-1055.87"/>
<polygon fill="midnightblue" stroke="midnightblue" points="1188.71,-1057.73 1196.91,-1064.45 1194.69,-1054.09 1188.71,-1057.73"/>
</g>
<g>
<path fill="none" stroke="midnightblue" d="M742.28,-665.59C765.49,-670.67 794.18,-676.96 818.67,-682.32"/>
<polygon fill="midnightblue" stroke="midnightblue" points="818.02,-685.76 828.53,-684.48 819.51,-678.92 818.02,-685.76"/>
</g>
<g>
<path fill="none" stroke="midnightblue" d="M757.25,-658.82C806.27,-661.61 877.89,-666.68 940,-675 954.8,-676.98 970.73,-679.73 985.42,-682.51"/>
<polygon fill="midnightblue" stroke="midnightblue" points="984.88,-685.97 995.37,-684.44 986.22,-679.1 984.88,-685.97"/>
</g>
<g>
<path fill="none" stroke="midnightblue" d="M700.89,-646.32C709.36,-613.96 741,-508.42 806,-452 853.77,-410.53 884.56,-434.47 940,-404 957.76,-394.24 958.31,-385.89 976,-376 983.29,-371.92 991.41,-368.27 999.35,-365.13"/>
<polygon fill="midnightblue" stroke="midnightblue" points="1000.75,-368.34 1008.88,-361.54 998.29,-361.79 1000.75,-368.34"/>
</g>
<g>
<path fill="none" stroke="midnightblue" d="M906.44,-532.46C917.42,-528.65 929.54,-523.78 940,-518 957.74,-508.19 956.83,-496.58 976,-490 1030.65,-471.25 1062.75,-451.69 1106,-490 1155.6,-533.94 1113.59,-726.14 1142,-786 1149.52,-801.85 1162.59,-816.23 1174.67,-827.25"/>
<polygon fill="midnightblue" stroke="midnightblue" points="1172.55,-830.04 1182.39,-833.98 1177.15,-824.77 1172.55,-830.04"/>
</g>
<g>
<path fill="none" stroke="midnightblue" d="M912.78,-532.5C922.31,-528.97 932.04,-524.25 940,-518 962.68,-500.18 950.57,-477.61 976,-464 1026.94,-436.74 1050.2,-449.02 1106,-464 1263.7,-506.34 1327.63,-516.19 1424,-648 1477.71,-721.46 1514.61,-1012.99 1523.77,-1092.1"/>
<polygon fill="midnightblue" stroke="midnightblue" points="1520.31,-1092.64 1524.92,-1102.18 1527.27,-1091.85 1520.31,-1092.64"/>
</g>
<g>
<path fill="none" stroke="midnightblue" d="M908.73,-551.61C960.57,-567.87 1057.28,-605.97 1106,-675 1157.83,-748.43 1120.95,-786.62 1142,-874 1158.17,-941.12 1183.73,-1018.98 1195.79,-1054.51"/>
<polygon fill="midnightblue" stroke="midnightblue" points="1192.53,-1055.79 1199.07,-1064.12 1199.15,-1053.53 1192.53,-1055.79"/>
</g>
<g>
<path fill="none" stroke="midnightblue" d="M884.38,-551.51C911.98,-576.78 987.41,-645.85 1022.11,-677.62"/>
<polygon fill="midnightblue" stroke="midnightblue" points="1019.88,-680.32 1029.62,-684.5 1024.61,-675.16 1019.88,-680.32"/>
</g>
<g>
<path fill="none" stroke="midnightblue" d="M880.34,-1368.47C895.54,-1345.91 935.82,-1287.91 976,-1245 1028.53,-1188.91 1063.23,-1194.84 1106,-1131 1135.34,-1087.2 1179.11,-934.47 1195.75,-873.96"/>
<polygon fill="midnightblue" stroke="midnightblue" points="1199.19,-874.67 1198.45,-864.1 1192.43,-872.83 1199.19,-874.67"/>
</g>
<g>
<path fill="none" stroke="midnightblue" d="M881.17,-1387.75C896.27,-1407.47 933.47,-1452.01 976,-1473 1065.35,-1517.1 1353.45,-1524.37 1424,-1454 1429.99,-1448.03 1499.95,-1203.51 1520.41,-1131.66"/>
<polygon fill="midnightblue" stroke="midnightblue" points="1523.88,-1132.25 1523.25,-1121.67 1517.15,-1130.33 1523.88,-1132.25"/>
</g>
<g>
<path fill="none" stroke="midnightblue" d="M913.05,-1387.54C964.01,-1397.47 1052.95,-1405.77 1106,-1359 1164.26,-1307.64 1115.54,-1261.02 1142,-1188 1154.9,-1152.4 1177.13,-1114.12 1190.76,-1092.22"/>
<polygon fill="midnightblue" stroke="midnightblue" points="1193.8,-1093.95 1196.18,-1083.63 1187.88,-1090.22 1193.8,-1093.95"/>
</g>
<g>
<path fill="none" stroke="midnightblue" d="M891.4,-1387.63C911.47,-1398.56 945.62,-1416.61 976,-1430 984.61,-1433.8 994.03,-1437.54 1002.93,-1440.91"/>
<polygon fill="midnightblue" stroke="midnightblue" points="1001.73,-1444.19 1012.32,-1444.39 1004.16,-1437.63 1001.73,-1444.19"/>
</g>
<g>
<path fill="none" stroke="midnightblue" d="M1050.85,-1444.35C1065.18,-1428.11 1093.13,-1393.68 1106,-1359 1153.34,-1231.45 1114.73,-1188.3 1142,-1055 1155.62,-988.41 1180.54,-912.16 1193.74,-873.8"/>
<polygon fill="midnightblue" stroke="midnightblue" points="1197.16,-874.62 1197.14,-864.03 1190.55,-872.33 1197.16,-874.62"/>
</g>
<g>
<path fill="none" stroke="midnightblue" d="M1094.81,-1456.98C1187.47,-1461.09 1374.24,-1464.08 1424,-1425 1448.22,-1405.98 1503.96,-1197.12 1520.97,-1131.57"/>
<polygon fill="midnightblue" stroke="midnightblue" points="1524.41,-1132.25 1523.53,-1121.69 1517.64,-1130.5 1524.41,-1132.25"/>
</g>
<g>
<path fill="none" stroke="midnightblue" d="M1056.25,-1444.42C1071.19,-1433.55 1094.11,-1414.41 1106,-1392 1149.16,-1310.68 1112.05,-1275.06 1142,-1188 1154.32,-1152.19 1176.74,-1113.98 1190.55,-1092.15"/>
<polygon fill="midnightblue" stroke="midnightblue" points="1193.59,-1093.89 1196.06,-1083.59 1187.71,-1090.1 1193.59,-1093.89"/>
</g>
<g>
<path fill="none" stroke="midnightblue" d="M1068.86,-1444.46C1095.48,-1435.01 1136.44,-1420.46 1166,-1409.96"/>
<polygon fill="midnightblue" stroke="midnightblue" points="1167.3,-1413.22 1175.55,-1406.57 1164.95,-1406.62 1167.3,-1413.22"/>
</g>
<g>
<polygon fill="white" stroke="black" points="1152,-1472.5 1152,-1491.5 1255,-1491.5 1255,-1472.5 1152,-1472.5"/>
<text x="1203.16" y="-1479.50" textLength="85.85" lengthAdjust="spacingAndGlyphs">lwpoint_is_empty</text>
</g>
<g>
<path fill="none" stroke="midnightblue" d="M1094.55,-1463.17C1109.63,-1465.8 1126.19,-1468.69 1141.71,-1471.4"/>
<polygon fill="midnightblue" stroke="midnightblue" points="1141.29,-1474.87 1151.74,-1473.14 1142.49,-1467.98 1141.29,-1474.87"/>
</g>
<g>
<path fill="none" stroke="midnightblue" d="M889.25,-1253.49C904.21,-1243.43 926.66,-1226.22 940,-1206 969.04,-1162.01 949.43,-1138.52 976,-1093 1031.25,-998.35 1128.91,-910.05 1175.85,-870.62"/>
<polygon fill="midnightblue" stroke="midnightblue" points="1178.29,-873.14 1183.74,-864.05 1173.81,-867.76 1178.29,-873.14"/>
</g>
<g>
<path fill="none" stroke="midnightblue" d="M880.23,-1272.51C894.33,-1293.05 931.02,-1341.16 976,-1359 1035.83,-1382.73 1206.71,-1367.29 1265,-1340 1284.93,-1330.67 1282.07,-1317.23 1301,-1306 1350.43,-1276.66 1378.24,-1300.79 1424,-1266 1471.93,-1229.55 1504.43,-1163.72 1518.34,-1131.22"/>
<polygon fill="midnightblue" stroke="midnightblue" points="1521.75,-1132.14 1522.34,-1121.56 1515.28,-1129.46 1521.75,-1132.14"/>
</g>
<g>
<path fill="none" stroke="midnightblue" d="M904.93,-1253.41C951.01,-1238.32 1039.42,-1206.24 1106,-1163 1137.94,-1142.25 1169.31,-1110.66 1187.23,-1091.23"/>
<polygon fill="midnightblue" stroke="midnightblue" points="1189.93,-1093.47 1194.06,-1083.71 1184.74,-1088.77 1189.93,-1093.47"/>
</g>
<g>
<path fill="none" stroke="midnightblue" d="M891.02,-1272.65C911.02,-1283.8 945.37,-1302.36 976,-1316 984.6,-1319.83 994.01,-1323.59 1002.91,-1326.96"/>
<polygon fill="midnightblue" stroke="midnightblue" points="1001.71,-1330.24 1012.3,-1330.44 1004.14,-1323.68 1001.71,-1330.24"/>
</g>
<g>
<path fill="none" stroke="midnightblue" d="M1058,-1330.41C1072.99,-1320.51 1094.73,-1303.63 1106,-1283 1155.17,-1192.96 1119.5,-1155.09 1142,-1055 1156.91,-988.68 1181.28,-912.32 1194.06,-873.87"/>
<polygon fill="midnightblue" stroke="midnightblue" points="1197.49,-874.67 1197.34,-864.07 1190.85,-872.44 1197.49,-874.67"/>
</g>
<g>
<path fill="none" stroke="midnightblue" d="M1067.56,-1330.49C1079.29,-1326.11 1093.36,-1320.83 1106,-1316 1122.04,-1309.87 1125.65,-1307.24 1142,-1302 1265.17,-1262.49 1313.99,-1298.05 1424,-1230 1465.43,-1204.37 1499,-1156.49 1515.3,-1130.29"/>
<polygon fill="midnightblue" stroke="midnightblue" points="1518.32,-1132.06 1520.51,-1121.69 1512.33,-1128.43 1518.32,-1132.06"/>
</g>
<g>
<path fill="none" stroke="midnightblue" d="M1056.29,-1330.43C1070.61,-1320.19 1092.42,-1302.73 1106,-1283 1131.6,-1245.8 1123.38,-1229.13 1142,-1188 1157.7,-1153.33 1179.2,-1114.48 1191.89,-1092.26"/>
<polygon fill="midnightblue" stroke="midnightblue" points="1194.95,-1093.97 1196.9,-1083.55 1188.88,-1090.47 1194.95,-1093.97"/>
</g>
<g>
<path fill="none" stroke="midnightblue" d="M1068.86,-1349.54C1095.48,-1358.99 1136.44,-1373.54 1166,-1384.04"/>
<polygon fill="midnightblue" stroke="midnightblue" points="1164.95,-1387.38 1175.55,-1387.43 1167.3,-1380.78 1164.95,-1387.38"/>
</g>
<g>
<polygon fill="white" stroke="black" points="1154,-1311.5 1154,-1330.5 1253,-1330.5 1253,-1311.5 1154,-1311.5"/>
<text x="1203.50" y="-1318.50" textLength="82.19" lengthAdjust="spacingAndGlyphs">lwpoly_is_empty</text>
</g>
<g>
<path fill="none" stroke="midnightblue" d="M1093.22,-1333.94C1109.33,-1332.03 1127.24,-1329.91 1143.82,-1327.95"/>
<polygon fill="midnightblue" stroke="midnightblue" points="1144.43,-1331.4 1153.95,-1326.75 1143.6,-1324.45 1144.43,-1331.4"/>
</g>
<g>
<path fill="none" stroke="midnightblue" d="M570.34,-323.42C625.31,-312.07 722.04,-293.85 806,-287 865.36,-282.16 880.49,-284.62 940,-287 961.73,-287.87 986.06,-289.79 1005.27,-291.54"/>
<polygon fill="midnightblue" stroke="midnightblue" points="1005.09,-295.03 1015.38,-292.48 1005.74,-288.07 1005.09,-295.03"/>
</g>
<g>
<path fill="none" stroke="midnightblue" d="M542.89,-323.45C619.77,-281.37 940.01,-121.31 1106,-276 1147.56,-314.73 1118.95,-734.08 1142,-786 1149.07,-801.92 1161.97,-816.23 1174.05,-827.18"/>
<polygon fill="midnightblue" stroke="midnightblue" points="1171.94,-829.98 1181.8,-833.87 1176.52,-824.68 1171.94,-829.98"/>
</g>
<g>
<path fill="none" stroke="midnightblue" d="M531.33,-323.19C559.33,-273.08 694.95,-48 872,-48 872,-48 872,-48 1204.5,-48 1349.38,-48 1363.47,-157.37 1424,-289 1493.06,-439.18 1520.3,-982.09 1525.17,-1092.37"/>
<polygon fill="midnightblue" stroke="midnightblue" points="1521.68,-1092.58 1525.61,-1102.42 1528.67,-1092.28 1521.68,-1092.58"/>
</g>
<g>
<path fill="none" stroke="midnightblue" d="M527,-342.63C531.94,-387.12 556.21,-576.28 625,-713 682.68,-827.65 700.94,-864.28 806,-938 836.17,-959.17 1066.88,-1032 1161.85,-1061.47"/>
<polygon fill="midnightblue" stroke="midnightblue" points="1160.82,-1064.82 1171.41,-1064.43 1162.89,-1058.13 1160.82,-1064.82"/>
</g>
<g>
<path fill="none" stroke="midnightblue" d="M589.03,-335.33C692.12,-339.14 894.78,-346.63 989.27,-350.12"/>
<polygon fill="midnightblue" stroke="midnightblue" points="989.3,-353.63 999.43,-350.5 989.56,-346.63 989.3,-353.63"/>
</g>
<g>
<path fill="none" stroke="midnightblue" d="M525.63,-342.55C524.45,-387.26 525.58,-577.75 625,-675 626.48,-676.45 628.06,-677.79 629.71,-679.03"/>
<polygon fill="midnightblue" stroke="midnightblue" points="628.22,-682.22 638.57,-684.45 631.87,-676.25 628.22,-682.22"/>
</g>
<g>
<path fill="none" stroke="midnightblue" d="M526.63,-342.96C531.42,-417.41 563.79,-887.34 625,-1014 676.02,-1119.59 705.75,-1145.14 806,-1206 858.92,-1238.12 892.33,-1204.51 940,-1244 967.55,-1266.82 949.41,-1292.06 976,-1316 980.46,-1320.02 985.66,-1323.39 991.13,-1326.2"/>
<polygon fill="midnightblue" stroke="midnightblue" points="989.96,-1329.51 1000.51,-1330.44 992.84,-1323.13 989.96,-1329.51"/>
</g>
<g>
<path fill="none" stroke="midnightblue" d="M880.13,-1177.31C893.16,-1156.25 923.76,-1104.41 940,-1057 967.42,-976.93 913.3,-926.85 976,-870 1018.01,-831.91 1084.17,-829.94 1134.15,-835.56"/>
<polygon fill="midnightblue" stroke="midnightblue" points="1133.89,-839.05 1144.24,-836.82 1134.75,-832.11 1133.89,-839.05"/>
</g>
<g>
<path fill="none" stroke="midnightblue" d="M931.76,-1196.53C934.68,-1198.1 937.46,-1199.91 940,-1202 970.43,-1227.02 942.97,-1261.53 976,-1283 1024.45,-1314.48 1049.08,-1292.9 1106,-1283 1186.87,-1268.94 1414.66,-1164.33 1496.37,-1126.01"/>
<polygon fill="midnightblue" stroke="midnightblue" points="1498.03,-1129.1 1505.59,-1121.68 1495.05,-1122.76 1498.03,-1129.1"/>
</g>
<g>
<path fill="none" stroke="midnightblue" d="M934.64,-1177.46C982.36,-1168.75 1049.94,-1153.73 1106,-1131 1133.12,-1120 1161.68,-1102.26 1180.63,-1089.48"/>
<polygon fill="midnightblue" stroke="midnightblue" points="1182.84,-1092.21 1189.11,-1083.67 1178.88,-1086.44 1182.84,-1092.21"/>
</g>
<g>
<path fill="none" stroke="midnightblue" d="M917.4,-1196.52C925.72,-1199.97 933.76,-1204.65 940,-1211 974.56,-1246.2 941.62,-1280.62 976,-1316 979.83,-1319.94 984.36,-1323.23 989.22,-1325.99"/>
<polygon fill="midnightblue" stroke="midnightblue" points="987.71,-1329.15 998.23,-1330.41 990.79,-1322.87 987.71,-1329.15"/>
</g>
<g>
<path fill="none" stroke="midnightblue" d="M888.39,-1028.35C903.53,-1017.43 926.95,-998.23 940,-976 973.4,-919.11 924,-872.6 976,-832 1028.45,-791.05 1110.17,-811.47 1159.78,-830.15"/>
<polygon fill="midnightblue" stroke="midnightblue" points="1158.67,-833.47 1169.26,-833.84 1161.21,-826.95 1158.67,-833.47"/>
</g>
<g>
<path fill="none" stroke="midnightblue" d="M918.99,-1028.44C1014.84,-1010.06 1245,-976.65 1424,-1036 1459.03,-1047.62 1491.79,-1076.46 1510.32,-1095.08"/>
<polygon fill="midnightblue" stroke="midnightblue" points="1507.89,-1097.6 1517.36,-1102.36 1512.92,-1092.73 1507.89,-1097.6"/>
</g>
<g>
<path fill="none" stroke="midnightblue" d="M920.7,-1043.61C938.06,-1045.66 957.93,-1047.98 976,-1050 1032.08,-1056.27 1096.02,-1063.01 1141.63,-1067.74"/>
<polygon fill="midnightblue" stroke="midnightblue" points="1141.35,-1071.23 1151.66,-1068.78 1142.07,-1064.27 1141.35,-1071.23"/>
</g>
<g>
<path fill="none" stroke="midnightblue" d="M881.86,-1047.84C894.38,-1063.56 919.51,-1095.4 940,-1123 972.32,-1166.54 1008.84,-1218.86 1027.52,-1245.88"/>
<polygon fill="midnightblue" stroke="midnightblue" points="1024.79,-1248.08 1033.35,-1254.32 1030.55,-1244.11 1024.79,-1248.08"/>
</g>
<g>
<path fill="none" stroke="midnightblue" d="M1049.5,-1254.3C1062.55,-1237.01 1089.64,-1199.36 1106,-1164 1118.56,-1136.84 1175.07,-943.61 1195.28,-873.95"/>
<polygon fill="midnightblue" stroke="midnightblue" points="1198.67,-874.82 1198.1,-864.24 1191.95,-872.87 1198.67,-874.82"/>
</g>
<g>
<path fill="none" stroke="midnightblue" d="M1053.36,-1254.31C1075.23,-1235.85 1122.71,-1196.68 1142,-1188 1195.95,-1163.74 1354.1,-1137.33 1449.79,-1122.91"/>
<polygon fill="midnightblue" stroke="midnightblue" points="1450.33,-1126.37 1459.71,-1121.43 1449.3,-1119.45 1450.33,-1126.37"/>
</g>
<g>
<path fill="none" stroke="midnightblue" d="M1082.44,-1254.48C1090.99,-1251.02 1099.41,-1246.32 1106,-1240 1135.61,-1211.6 1121.58,-1190.58 1142,-1155 1155.27,-1131.88 1174.09,-1107.68 1187.2,-1091.83"/>
<polygon fill="midnightblue" stroke="midnightblue" points="1190.08,-1093.84 1193.83,-1083.93 1184.72,-1089.34 1190.08,-1093.84"/>
</g>
<g>
<path fill="none" stroke="midnightblue" d="M1053.54,-1273.57C1080.71,-1296.08 1148.94,-1352.62 1182.81,-1380.68"/>
<polygon fill="midnightblue" stroke="midnightblue" points="1180.7,-1383.48 1190.63,-1387.16 1185.16,-1378.09 1180.7,-1383.48"/>
</g>
<g>
<polygon fill="white" stroke="black" points="1145.5,-1197.5 1145.5,-1216.5 1261.5,-1216.5 1261.5,-1197.5 1145.5,-1197.5"/>
<text x="1202.83" y="-1204.50" textLength="98.23" lengthAdjust="spacingAndGlyphs">lwtriangle_is_empty</text>
</g>
<g>
<path fill="none" stroke="midnightblue" d="M1068.86,-1254.46C1095.48,-1245.01 1136.44,-1230.46 1166,-1219.96"/>
<polygon fill="midnightblue" stroke="midnightblue" points="1167.3,-1223.22 1175.55,-1216.57 1164.95,-1216.62 1167.3,-1223.22"/>
</g>
<g>
<polygon fill="white" stroke="black" points="1304.5,-1548.5 1304.5,-1567.5 1420.5,-1567.5 1420.5,-1548.5 1304.5,-1548.5"/>
<text x="1362.16" y="-1555.50" textLength="99.23" lengthAdjust="spacingAndGlyphs">stringbuffer_avprintf</text>
</g>
<g>
<path fill="none" stroke="midnightblue" d="M413.79,-1047.65C418.05,-1050.11 421.91,-1053.18 425,-1057 477.9,-1122.46 414.13,-1364.1 461,-1434 526.88,-1532.25 578.21,-1558 696.5,-1558 696.5,-1558 696.5,-1558 1042,-1558 1129.14,-1558 1229.65,-1558 1294.3,-1558"/>
<polygon fill="midnightblue" stroke="midnightblue" points="1294.36,-1561.5 1304.36,-1558 1294.36,-1554.5 1294.36,-1561.5"/>
</g>
<g>
<path fill="none" stroke="midnightblue" d="M1410.8,-1548.4C1458.07,-1538.09 1532.38,-1519.91 1594,-1496 1620.88,-1485.57 1649.97,-1470.01 1669.9,-1458.63"/>
<polygon fill="midnightblue" stroke="midnightblue" points="1671.73,-1461.61 1678.64,-1453.57 1668.23,-1455.55 1671.73,-1461.61"/>
</g>
<g>
<polygon fill="white" stroke="black" points="470.5,-1625 470.5,-1655 579.5,-1655 579.5,-1625 470.5,-1625"/>
<text x="525.00" y="-1643.00" textLength="92.59" lengthAdjust="spacingAndGlyphs">stringbuffer_create</text>
<text x="525.00" y="-1632.00" textLength="50.60" lengthAdjust="spacingAndGlyphs">_with_size</text>
</g>
<g>
<path fill="none" stroke="midnightblue" d="M418.83,-1638.02C432.11,-1638.27 446.46,-1638.54 460.17,-1638.8"/>
<polygon fill="midnightblue" stroke="midnightblue" points="460.43,-1642.3 470.5,-1638.99 460.56,-1635.3 460.43,-1642.3"/>
</g>
<g>
<polygon fill="white" stroke="black" points="847.5,-1624.5 847.5,-1643.5 898.5,-1643.5 898.5,-1624.5 847.5,-1624.5"/>
<text x="873.00" y="-1631.50" textLength="34.26" lengthAdjust="spacingAndGlyphs">lwalloc</text>
</g>
<g>
<path fill="none" stroke="midnightblue" d="M579.57,-1648.33C594.26,-1650.26 610.21,-1652.03 625,-1653 689.31,-1657.2 705.83,-1658.93 770,-1653 792.65,-1650.91 817.78,-1646.26 837.43,-1642.08"/>
<polygon fill="midnightblue" stroke="midnightblue" points="838.42,-1645.44 847.44,-1639.89 836.93,-1638.61 838.42,-1645.44"/>
</g>
<g>
<polygon fill="white" stroke="black" points="625,-1624.5 625,-1643.5 770,-1643.5 770,-1624.5 625,-1624.5"/>
<text x="697.50" y="-1631.50" textLength="128.61" lengthAdjust="spacingAndGlyphs">stringbuffer_init_with_size</text>
</g>
<g>
<path fill="none" stroke="midnightblue" d="M579.95,-1638.1C590.96,-1637.71 602.79,-1637.3 614.53,-1636.88"/>
<polygon fill="midnightblue" stroke="midnightblue" points="614.94,-1640.37 624.81,-1636.52 614.69,-1633.38 614.94,-1640.37"/>
</g>
<g>
<path fill="none" stroke="midnightblue" d="M770.07,-1634C793.23,-1634 817.87,-1634 837.13,-1634"/>
<polygon fill="midnightblue" stroke="midnightblue" points="837.23,-1637.5 847.23,-1634 837.23,-1630.5 837.23,-1637.5"/>
</g>
<g>
<polygon fill="white" stroke="black" points="501.5,-19.5 501.5,-38.5 548.5,-38.5 548.5,-19.5 501.5,-19.5"/>
<text x="525.00" y="-26.50" textLength="30.67" lengthAdjust="spacingAndGlyphs">lwfree</text>
</g>
<g>
<path fill="none" stroke="midnightblue" d="M254.99,-295.34C259.47,-292.87 263.58,-289.8 267,-286 331.43,-214.23 235.68,-141.06 303,-72 328.64,-45.69 435.78,-34.84 490.91,-30.92"/>
<polygon fill="midnightblue" stroke="midnightblue" points="491.46,-34.39 501.2,-30.23 490.99,-27.41 491.46,-34.39"/>
</g>
<g>
<polygon fill="white" stroke="black" points="307,-0.5 307,-19.5 421,-19.5 421,-0.5 307,-0.5"/>
<text x="364.00" y="-7.50" textLength="97.31" lengthAdjust="spacingAndGlyphs">stringbuffer_release</text>
</g>
<g>
<path fill="none" stroke="midnightblue" d="M255.08,-295.43C259.55,-292.94 263.63,-289.85 267,-286 341.53,-200.88 233.09,-122.95 303,-34 305.89,-30.33 309.42,-27.22 313.31,-24.58"/>
<polygon fill="midnightblue" stroke="midnightblue" points="315.3,-27.48 322.3,-19.53 311.87,-21.37 315.3,-27.48"/>
</g>
<g>
<path fill="none" stroke="midnightblue" d="M421.06,-16.7C444.51,-19.5 470.95,-22.66 491.16,-25.08"/>
<polygon fill="midnightblue" stroke="midnightblue" points="490.77,-28.55 501.11,-26.26 491.6,-21.6 490.77,-28.55"/>
</g>
<g>
<path fill="none" stroke="midnightblue" d="M742.28,-1605.59C771.66,-1612.02 809.82,-1620.38 837.14,-1626.37"/>
<polygon fill="midnightblue" stroke="midnightblue" points="836.52,-1629.81 847.04,-1628.53 838.02,-1622.97 836.52,-1629.81"/>
</g>
</g>
</svg>

</body></html>
